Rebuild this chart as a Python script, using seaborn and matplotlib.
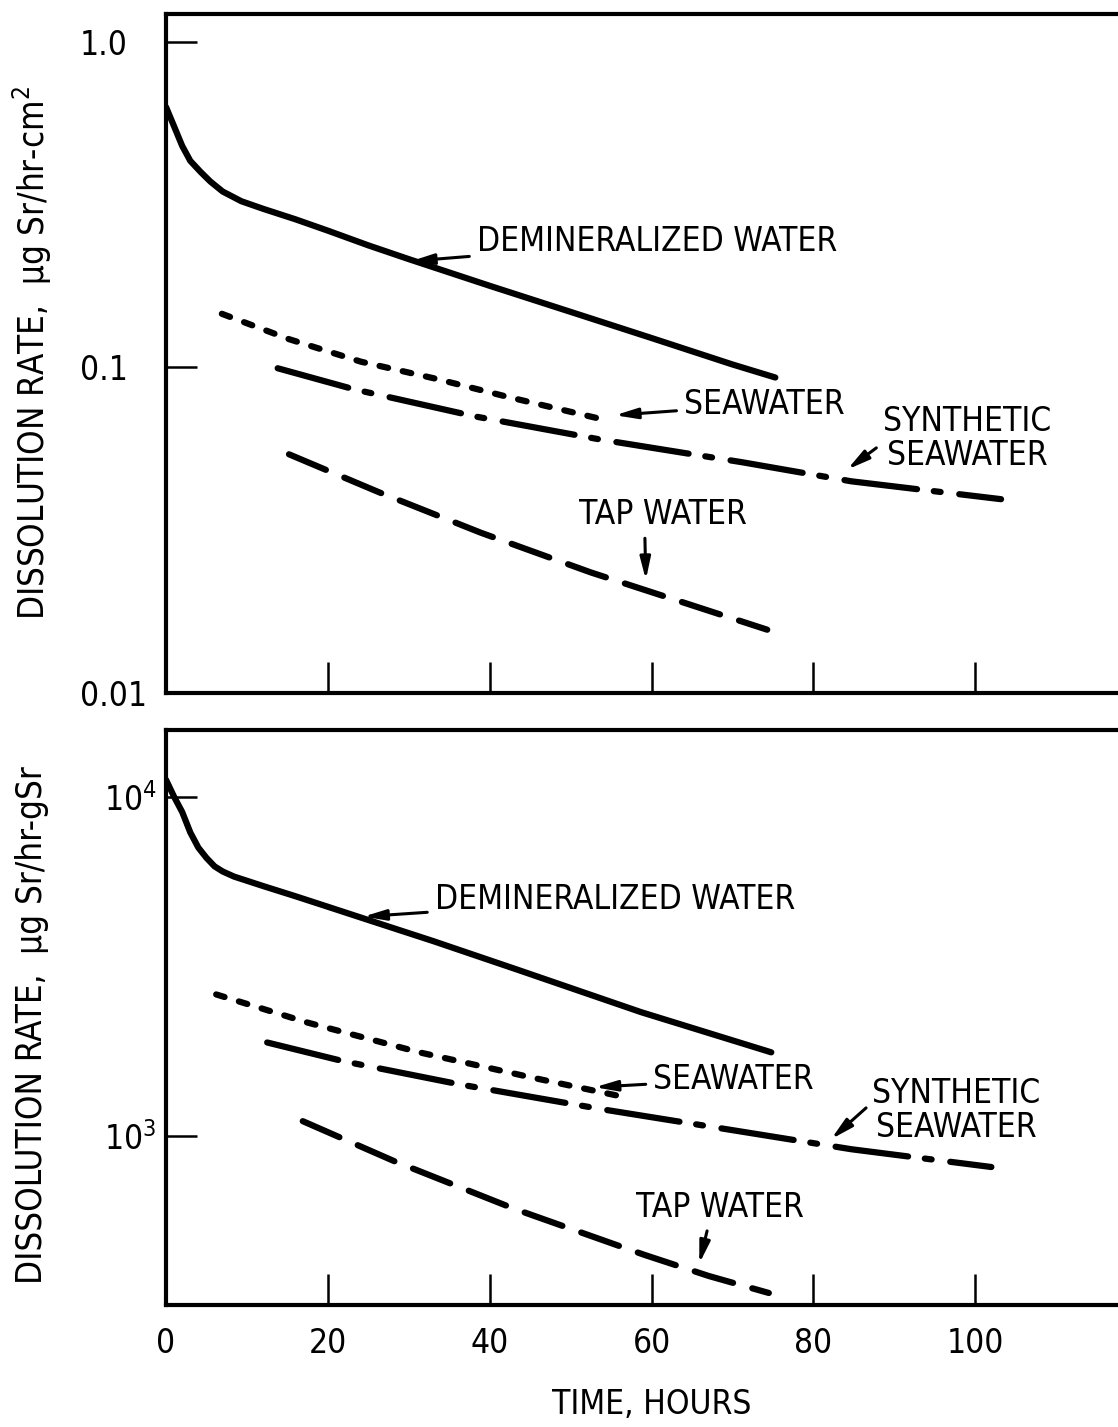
import numpy as np
import pandas as pd
import matplotlib.pyplot as plt
import seaborn as sns

# Values (time in hours, dissolution rate)
# upper panel: ug Sr/hr-cm2
demin_t_a = [0, 1, 2, 3, 4.3, 5.5, 7, 9.3, 12, 16, 20, 25, 30, 40, 50, 60, 70, 75.3]
demin_r_a = [0.631, 0.55, 0.479, 0.431, 0.398, 0.372, 0.347, 0.324, 0.307, 0.285,
             0.263, 0.237, 0.215, 0.178, 0.148, 0.123, 0.102, 0.093]
sea_t_a = [6.9, 15.2, 24.1, 33.5, 42.3, 54.1]
sea_r_a = [0.146, 0.122, 0.104, 0.092, 0.081, 0.069]
syn_t_a = [13.8, 23.2, 38.2, 53.6, 71.3, 84.7, 103.2]
syn_r_a = [0.0993, 0.0856, 0.0706, 0.060, 0.051, 0.0446, 0.0393]
tap_t_a = [15.2, 26.3, 38.9, 52.5, 66.6, 74.3]
tap_r_a = [0.054, 0.0413, 0.031, 0.0234, 0.018, 0.0156]

# lower panel: ug Sr/hr-gSr
demin_t_b = [0, 1, 2, 3, 4, 5, 6, 7, 8.4, 12, 16, 20, 25, 33, 43.5, 58.7, 74.8]
demin_r_b = [11220, 10000, 9016, 7852, 7079, 6607, 6237, 6026, 5821, 5458, 5093,
             4742, 4335, 3758, 3090, 2320, 1766]
sea_t_b = [6.2, 17.4, 31.3, 45.0, 56.1]
sea_r_b = [2616, 2164, 1766, 1492, 1312]
syn_t_b = [12.5, 21.9, 36.2, 53.9, 71.6, 84.7, 102]
syn_r_b = [1888, 1663, 1422, 1200, 1027, 915, 811]
tap_t_b = [16.9, 28.2, 43.1, 59.1, 67.1, 74.5]
tap_r_b = [1107, 844, 610, 447, 387, 345]

x_ticks = [0, 20, 40, 60, 80, 100]
x_labels = ['0', '20', '40', '60', '80', '100']
ya_ticks = [0.01, 0.1, 1.0]
ya_labels = ['0.01', '0.1', '1.0']
yb_ticks = [1000, 10000]
yb_labels = [r'$\mathregular{10^3}$', r'$\mathregular{10^4}$']

# line styles, in units of line width
dash_map = {'demin': '', 'sea': (1.4, 2.4), 'syn': (11.7, 2.7, 1.1, 3.0), 'tap': (6.4, 3.2)}

sns.set_style('ticks')
plt.rcParams['font.family'] = ['DejaVu Sans']
plt.rcParams['font.stretch'] = 'condensed'
plt.rcParams['mathtext.fontset'] = 'custom'
plt.rcParams['mathtext.rm'] = 'DejaVu Sans:stretch=condensed'
plt.rcParams['text.color'] = 'black'
plt.rcParams['axes.labelcolor'] = 'black'
plt.rcParams['xtick.color'] = 'black'
plt.rcParams['ytick.color'] = 'black'

FS = 24


def make_df(parts):
    frames = []
    for name, t, r in parts:
        frames.append(pd.DataFrame({'time': t, 'rate': r, 'water': name}))
    return pd.concat(frames, ignore_index=True)


df_a = make_df([('demin', demin_t_a, demin_r_a), ('sea', sea_t_a, sea_r_a),
                ('syn', syn_t_a, syn_r_a), ('tap', tap_t_a, tap_r_a)])
df_b = make_df([('demin', demin_t_b, demin_r_b), ('sea', sea_t_b, sea_r_b),
                ('syn', syn_t_b, syn_r_b), ('tap', tap_t_b, tap_r_b)])

fig = plt.figure(figsize=(11.18, 14.27), dpi=100)
ax1 = fig.add_axes([0.1485, 0.5147, 0.8685, 0.4758])
ax2 = fig.add_axes([0.1485, 0.0855, 0.8685, 0.4029])

for ax, df in [(ax1, df_a), (ax2, df_b)]:
    sns.lineplot(data=df, x='time', y='rate', style='water', dashes=dash_map,
                 color='black', lw=4.5, estimator=None, sort=False, legend=False,
                 dash_capstyle='round', solid_capstyle='round', ax=ax)
    ax.set_yscale('log')
    ax.set_xlim(0, 120)
    ax.minorticks_off()
    for s in ax.spines.values():
        s.set_linewidth(3)
        s.set_color('black')
    ax.tick_params(axis='both', direction='in', length=22, width=1.8,
                   labelsize=FS, colors='black')
    ax.set_xlabel('')
    ax.set_ylabel('')

# upper panel
ax1.set_ylim(0.01, 1.223)
ax1.set_xticks(x_ticks, labels=[''] * len(x_ticks))
ax1.set_yticks(ya_ticks, labels=ya_labels)
ax1.tick_params(axis='y', pad=62)
for lab in ax1.get_yticklabels():
    lab.set_ha('left')
ax1.set_ylabel('DISSOLUTION RATE,  µg Sr/hr-cm$^2$', fontsize=25, va='center')
ax1.yaxis.set_label_coords(-0.138, 0.5)

# lower panel
ax2.set_ylim(318, 15730)
ax2.set_xticks(x_ticks, labels=x_labels)
ax2.tick_params(axis='x', pad=16)
ax2.set_yticks(yb_ticks, labels=yb_labels)
ax2.tick_params(axis='y', pad=45)
for lab in ax2.get_yticklabels():
    lab.set_ha('left')
ax2.set_ylabel('DISSOLUTION RATE,  µg Sr/hr-gSr', fontsize=25, va='center')
ax2.yaxis.set_label_coords(-0.138, 0.487)
ax2.set_xlabel('TIME, HOURS', fontsize=FS, va='center')
ax2.xaxis.set_label_coords(0.5, -0.173)

arrow = dict(arrowstyle='-|>,head_length=0.55,head_width=0.13', color='black',
             lw=2.2, shrinkA=3, shrinkB=0)

# labels, upper panel
ax1.annotate('DEMINERALIZED WATER', xy=(30.3, 0.212), xytext=(38.4, 0.244),
             ha='left', va='center', fontsize=FS, arrowprops=arrow)
ax1.annotate('SEAWATER', xy=(55.5, 0.0712), xytext=(64.0, 0.0769),
             ha='left', va='center', fontsize=FS, arrowprops=arrow)
ax1.annotate('SYNTHETIC\nSEAWATER', xy=(84.2, 0.0485), xytext=(99.0, 0.0605),
             ha='center', va='center', multialignment='center', linespacing=1.05,
             fontsize=FS, arrowprops=dict(arrow, relpos=(0, 0.43)))
ax1.annotate('TAP WATER', xy=(59.3, 0.0222), xytext=(61.4, 0.0353),
             ha='center', va='center', fontsize=FS,
             arrowprops=dict(arrow, relpos=(0.39, 0.5)))

# labels, lower panel
ax2.annotate('DEMINERALIZED WATER', xy=(24.4, 4436), xytext=(33.2, 4977),
             ha='left', va='center', fontsize=FS, arrowprops=arrow)
ax2.annotate('SEAWATER', xy=(53.0, 1394), xytext=(60.2, 1471),
             ha='left', va='center', fontsize=FS, arrowprops=arrow)
ax2.annotate('SYNTHETIC\nSEAWATER', xy=(82.2, 980), xytext=(97.7, 1192),
             ha='center', va='center', multialignment='center', linespacing=1.05,
             fontsize=FS, arrowprops=dict(arrow, relpos=(0, 0.62)))
ax2.annotate('TAP WATER', xy=(65.9, 421), xytext=(68.4, 618),
             ha='center', va='center', fontsize=FS,
             arrowprops=dict(arrow, relpos=(0.46, 0.5)))

fig.savefig('out.png', dpi=100, facecolor='white')
